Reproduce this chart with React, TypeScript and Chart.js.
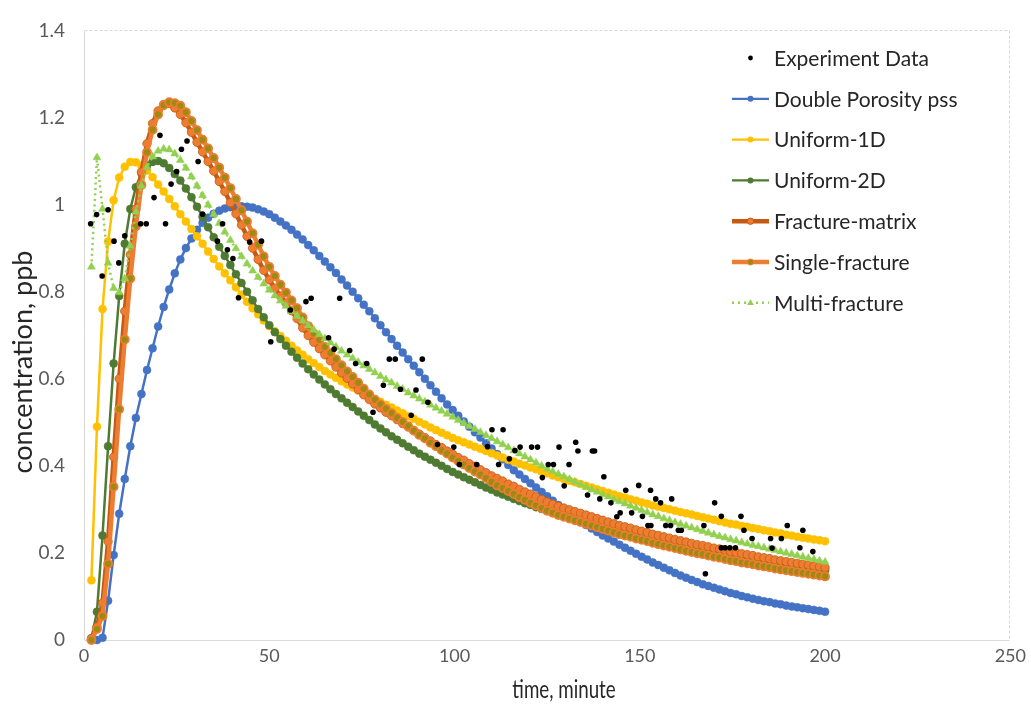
import { useEffect, useRef } from 'react';
import { Chart, registerables } from 'chart.js';

Chart.register(...registerables);

// ---------- data ----------
const TIMES = [
  2, 3.5, 5, 6.5, 8, 9.5, 11, 12.5, 14, 15.5,
  17, 18.5, 20, 21.5, 23, 24.5, 26, 27.5, 29, 30.5,
  32, 33.5, 35, 36.5, 38, 39.5, 41, 42.5, 44, 45.5,
  47, 48.5, 50, 51.5, 53, 54.5, 56, 57.5, 59, 60.5,
  62, 63.5, 65, 66.5, 68, 69.5, 71, 72.5, 74, 75.5,
  77, 78.5, 80, 81.5, 83, 84.5, 86, 87.5, 89, 90.5,
  92, 93.5, 95, 96.5, 98, 99.5, 101, 102.5, 104, 105.5,
  107, 108.5, 110, 111.5, 113, 114.5, 116, 117.5, 119, 120.5,
  122, 123.5, 125, 126.5, 128, 129.5, 131, 132.5, 134, 135.5,
  137, 138.5, 140, 141.5, 143, 144.5, 146, 147.5, 149, 150.5,
  152, 153.5, 155, 156.5, 158, 159.5, 161, 162.5, 164, 165.5,
  167, 168.5, 170, 171.5, 173, 174.5, 176, 177.5, 179, 180.5,
  182, 183.5, 185, 186.5, 188, 189.5, 191, 192.5, 194, 195.5,
  197, 198.5, 200,
];

const DOUBLE_POROSITY = [
  0, 0, 0.005, 0.09, 0.195, 0.29, 0.37, 0.445, 0.51, 0.565,
  0.62, 0.67, 0.72, 0.765, 0.805, 0.842, 0.874, 0.9, 0.922, 0.942,
  0.958, 0.97, 0.979, 0.986, 0.991, 0.994, 0.996, 0.996, 0.995, 0.993,
  0.989, 0.984, 0.978, 0.97, 0.961, 0.952, 0.942, 0.931, 0.92, 0.907,
  0.895, 0.882, 0.869, 0.856, 0.843, 0.828, 0.814, 0.8, 0.785, 0.77,
  0.755, 0.739, 0.723, 0.707, 0.691, 0.676, 0.66, 0.645, 0.63, 0.615,
  0.6, 0.585, 0.57, 0.555, 0.541, 0.528, 0.515, 0.502, 0.49, 0.477,
  0.465, 0.452, 0.44, 0.427, 0.415, 0.402, 0.39, 0.38, 0.37, 0.36,
  0.35, 0.34, 0.33, 0.32, 0.31, 0.3, 0.29, 0.281, 0.272, 0.264,
  0.256, 0.248, 0.24, 0.233, 0.226, 0.219, 0.212, 0.205, 0.198, 0.191,
  0.185, 0.178, 0.172, 0.166, 0.16, 0.154, 0.148, 0.143, 0.138, 0.133,
  0.128, 0.124, 0.12, 0.116, 0.112, 0.108, 0.105, 0.101, 0.098, 0.095,
  0.092, 0.089, 0.087, 0.084, 0.082, 0.079, 0.077, 0.075, 0.073, 0.071,
  0.069, 0.067, 0.065,
];

const UNIFORM_1D = [
  0.137, 0.49, 0.76, 0.915, 1.01, 1.062, 1.087, 1.098, 1.097, 1.09,
  1.078, 1.063, 1.046, 1.03, 1.013, 0.996, 0.978, 0.961, 0.944, 0.927,
  0.91, 0.892, 0.875, 0.858, 0.842, 0.826, 0.81, 0.793, 0.777, 0.762,
  0.748, 0.734, 0.721, 0.709, 0.698, 0.687, 0.676, 0.665, 0.655, 0.645,
  0.636, 0.627, 0.618, 0.61, 0.602, 0.594, 0.587, 0.58, 0.573, 0.566,
  0.56, 0.553, 0.547, 0.54, 0.534, 0.527, 0.521, 0.514, 0.508, 0.501,
  0.495, 0.488, 0.482, 0.476, 0.47, 0.464, 0.459, 0.454, 0.449, 0.444,
  0.439, 0.434, 0.429, 0.424, 0.419, 0.414, 0.41, 0.405, 0.401, 0.396,
  0.392, 0.387, 0.383, 0.378, 0.374, 0.37, 0.366, 0.362, 0.358, 0.354,
  0.35, 0.346, 0.342, 0.338, 0.334, 0.33, 0.327, 0.323, 0.32, 0.316,
  0.313, 0.309, 0.306, 0.303, 0.3, 0.297, 0.294, 0.291, 0.288, 0.285,
  0.282, 0.279, 0.276, 0.273, 0.27, 0.267, 0.265, 0.262, 0.26, 0.257,
  0.255, 0.252, 0.25, 0.247, 0.245, 0.242, 0.24, 0.237, 0.235, 0.233,
  0.231, 0.229, 0.227,
];

const UNIFORM_2D = [
  0.004, 0.065, 0.24, 0.445, 0.635, 0.79, 0.91, 0.99, 1.04, 1.072,
  1.09, 1.098, 1.1, 1.095, 1.084, 1.07, 1.055, 1.037, 1.017, 0.995,
  0.972, 0.948, 0.925, 0.903, 0.882, 0.861, 0.84, 0.82, 0.8, 0.78,
  0.76, 0.741, 0.723, 0.707, 0.691, 0.676, 0.662, 0.648, 0.635, 0.622,
  0.61, 0.598, 0.587, 0.576, 0.565, 0.555, 0.545, 0.535, 0.525, 0.515,
  0.505, 0.495, 0.486, 0.477, 0.468, 0.46, 0.452, 0.444, 0.436, 0.428,
  0.421, 0.414, 0.407, 0.4, 0.393, 0.386, 0.38, 0.374, 0.368, 0.362,
  0.356, 0.35, 0.345, 0.339, 0.334, 0.329, 0.324, 0.319, 0.314, 0.31,
  0.305, 0.301, 0.296, 0.292, 0.288, 0.284, 0.28, 0.276, 0.272, 0.268,
  0.265, 0.261, 0.258, 0.254, 0.251, 0.248, 0.245, 0.242, 0.239, 0.236,
  0.233, 0.23, 0.227, 0.224, 0.222, 0.219, 0.216, 0.214, 0.211, 0.209,
  0.206, 0.204, 0.202, 0.199, 0.197, 0.195, 0.193, 0.19, 0.188, 0.186,
  0.184, 0.182, 0.18, 0.178, 0.176, 0.174, 0.172, 0.17, 0.168, 0.166,
  0.164, 0.162, 0.16,
];

const FRACTURE_MATRIX = [
  0.003, 0.03, 0.085, 0.226, 0.42, 0.6, 0.755, 0.885, 0.99, 1.075,
  1.14, 1.186, 1.215, 1.23, 1.232, 1.222, 1.207, 1.188, 1.166, 1.143,
  1.121, 1.099, 1.077, 1.053, 1.03, 1.004, 0.979, 0.953, 0.927, 0.9,
  0.874, 0.849, 0.827, 0.808, 0.79, 0.774, 0.756, 0.738, 0.717, 0.699,
  0.684, 0.669, 0.655, 0.641, 0.627, 0.613, 0.601, 0.588, 0.575, 0.563,
  0.552, 0.542, 0.533, 0.523, 0.515, 0.506, 0.497, 0.489, 0.481, 0.473,
  0.465, 0.457, 0.449, 0.442, 0.434, 0.427, 0.419, 0.413, 0.405, 0.399,
  0.391, 0.384, 0.377, 0.371, 0.365, 0.358, 0.353, 0.346, 0.34, 0.335,
  0.329, 0.323, 0.317, 0.312, 0.307, 0.303, 0.299, 0.295, 0.291, 0.287,
  0.283, 0.279, 0.275, 0.271, 0.267, 0.263, 0.26, 0.257, 0.253, 0.25,
  0.247, 0.243, 0.24, 0.237, 0.234, 0.231, 0.228, 0.225, 0.222, 0.219,
  0.217, 0.214, 0.211, 0.209, 0.206, 0.203, 0.201, 0.198, 0.196, 0.194,
  0.191, 0.189, 0.187, 0.184, 0.182, 0.18, 0.178, 0.176, 0.174, 0.172,
  0.17, 0.168, 0.166,
];

const SINGLE_FRACTURE = [
  0, 0.025, 0.055, 0.175, 0.352, 0.53, 0.69, 0.83, 0.95, 1.045,
  1.12, 1.172, 1.207, 1.228, 1.235, 1.233, 1.227, 1.212, 1.192, 1.171,
  1.149, 1.129, 1.107, 1.085, 1.062, 1.038, 1.013, 0.987, 0.961, 0.934,
  0.908, 0.881, 0.857, 0.836, 0.816, 0.798, 0.78, 0.762, 0.741, 0.721,
  0.704, 0.689, 0.673, 0.659, 0.645, 0.631, 0.617, 0.604, 0.591, 0.577,
  0.564, 0.552, 0.541, 0.531, 0.521, 0.51, 0.501, 0.491, 0.481, 0.471,
  0.463, 0.453, 0.445, 0.436, 0.428, 0.419, 0.411, 0.403, 0.395, 0.387,
  0.38, 0.372, 0.363, 0.355, 0.349, 0.342, 0.335, 0.328, 0.322, 0.315,
  0.309, 0.303, 0.297, 0.292, 0.287, 0.283, 0.279, 0.275, 0.271, 0.267,
  0.263, 0.259, 0.255, 0.251, 0.247, 0.243, 0.24, 0.237, 0.233, 0.23,
  0.227, 0.223, 0.22, 0.217, 0.214, 0.211, 0.208, 0.205, 0.202, 0.199,
  0.197, 0.194, 0.191, 0.189, 0.186, 0.183, 0.181, 0.178, 0.176, 0.174,
  0.171, 0.169, 0.167, 0.164, 0.162, 0.16, 0.158, 0.156, 0.154, 0.152,
  0.15, 0.148, 0.146,
];

const MULTI_FRACTURE = [
  0.857, 1.108, 0.99, 0.866, 0.808, 0.798, 0.83, 0.905, 0.983, 1.043,
  1.085, 1.11, 1.123, 1.128, 1.126, 1.117, 1.102, 1.084, 1.064, 1.043,
  1.021, 0.999, 0.978, 0.957, 0.937, 0.918, 0.899, 0.881, 0.864, 0.848,
  0.833, 0.818, 0.804, 0.791, 0.779, 0.767, 0.755, 0.744, 0.733, 0.722,
  0.712, 0.702, 0.692, 0.683, 0.673, 0.664, 0.655, 0.647, 0.638, 0.63,
  0.622, 0.614, 0.606, 0.598, 0.591, 0.583, 0.576, 0.568, 0.561, 0.554,
  0.547, 0.54, 0.533, 0.526, 0.519, 0.512, 0.505, 0.498, 0.491, 0.484,
  0.477, 0.47, 0.463, 0.456, 0.449, 0.442, 0.435, 0.428, 0.421, 0.414,
  0.407, 0.4, 0.393, 0.387, 0.381, 0.375, 0.369, 0.363, 0.357, 0.351,
  0.345, 0.34, 0.334, 0.329, 0.323, 0.318, 0.313, 0.308, 0.303, 0.298,
  0.293, 0.288, 0.284, 0.279, 0.275, 0.27, 0.266, 0.262, 0.258, 0.254,
  0.25, 0.246, 0.242, 0.238, 0.235, 0.231, 0.228, 0.224, 0.221, 0.218,
  0.215, 0.212, 0.209, 0.206, 0.203, 0.2, 0.197, 0.194, 0.191, 0.188,
  0.185, 0.182, 0.179,
];

const EXP_T = [
  1.8, 3.4, 4.9, 6.5, 8.1, 9.4, 11.0, 15.3, 16.8, 18.9,
  20.5, 22.0, 23.5, 25.0, 26.3, 27.8, 30.8, 32.0, 36.0, 37.4,
  38.7, 40.2, 41.7, 44.7, 47.9, 50.4, 55.7, 59.9, 61.3, 66.0,
  67.5, 69.0, 71.7, 73.3, 76.3, 78.0, 80.8, 82.4, 84.0, 85.4,
  88.3, 89.6, 91.3, 92.8, 95.4, 99.8, 101.3, 106.0, 108.9, 110.1,
  111.9, 113.1, 114.8, 116.3, 117.7, 120.8, 122.4, 123.7, 125.3, 126.7,
  128.2, 129.6, 130.9, 132.7, 133.3, 135.9, 137.2, 137.8, 139.2, 140.3,
  142.2, 143.8, 144.7, 146.2, 147.8, 149.7, 150.7, 152.2, 152.9, 153.0,
  154.3, 155.6, 157.0, 158.3, 158.6, 160.4, 161.2, 167.3, 167.7, 170.2,
  172.0, 172.0, 173.0, 174.3, 175.8, 177.3, 178.1, 180.3, 185.3, 185.7,
  188.2, 189.8, 193.2, 194.0, 196.7,
];

const EXP_V = [
  0.956, 0.977, 0.836, 0.988, 0.916, 0.866, 0.928, 0.956, 0.956, 1.016,
  1.159, 0.956, 1.047, 1.076, 1.127, 1.146, 1.099, 0.978, 0.916, 0.956,
  0.896, 0.876, 0.786, 0.914, 0.916, 0.685, 0.758, 0.777, 0.785, 0.694,
  0.668, 0.785, 0.665, 0.635, 0.635, 0.523, 0.585, 0.645, 0.645, 0.576,
  0.516, 0.574, 0.645, 0.546, 0.449, 0.443, 0.403, 0.403, 0.444, 0.483,
  0.403, 0.483, 0.416, 0.435, 0.443, 0.443, 0.443, 0.373, 0.403, 0.403,
  0.443, 0.354, 0.403, 0.454, 0.434, 0.333, 0.434, 0.434, 0.324, 0.375,
  0.315, 0.283, 0.292, 0.344, 0.292, 0.355, 0.284, 0.263, 0.344, 0.263,
  0.324, 0.315, 0.263, 0.263, 0.324, 0.252, 0.252, 0.263, 0.152, 0.315,
  0.284, 0.212, 0.212, 0.212, 0.212, 0.284, 0.252, 0.233, 0.233, 0.211,
  0.233, 0.263, 0.212, 0.252, 0.203,
];

const X_TICKS = [0, 50, 100, 150, 200, 250];
const Y_TICKS = [0, 0.2, 0.4, 0.6, 0.8, 1, 1.2, 1.4];

const X_TITLE = 'time, minute';
const Y_TITLE = 'concentration, ppb';

// ---------- styles ----------
const FONT = 'Lato, "Noto Sans", sans-serif';
const C_BLUE = '#4472C4';
const C_GOLD = '#FFC000';
const C_DKGREEN = '#4E7A31';
const C_DKORANGE = '#C55A11';
const C_ORANGE = '#ED7D31';
const C_OLIVE = '#9C8A12';
const C_LTGREEN = '#92D050';

type LegendItem = {
  label: string;
  line?: string;
  lw?: number;
  dash?: number[];
  marker: 'dot' | 'circle' | 'triangle';
  fill: string;
  stroke?: string;
  msw?: number;
  r: number;
};

const LEGEND: LegendItem[] = [
  { label: 'Experiment Data', marker: 'dot', fill: '#000', r: 2.4 },
  { label: 'Double Porosity pss', line: C_BLUE, lw: 2.25, marker: 'circle', fill: C_BLUE, r: 3 },
  { label: 'Uniform-1D', line: C_GOLD, lw: 2.25, marker: 'circle', fill: C_GOLD, r: 3 },
  { label: 'Uniform-2D', line: C_DKGREEN, lw: 2.25, marker: 'circle', fill: C_DKGREEN, r: 3 },
  { label: 'Fracture-matrix', line: C_DKORANGE, lw: 4.5, marker: 'circle', fill: C_ORANGE, stroke: C_DKORANGE, msw: 1, r: 3.2 },
  { label: 'Single-fracture', line: C_ORANGE, lw: 4.5, marker: 'circle', fill: C_OLIVE, stroke: C_ORANGE, msw: 1, r: 3 },
  { label: 'Multi-fracture', line: C_LTGREEN, lw: 2.5, dash: [2, 4], marker: 'triangle', fill: C_LTGREEN, r: 3.6 },
];

const series = (vals: number[]) => TIMES.map((t, i) => ({ x: t, y: vals[i] }));

const framePlugin = {
  id: 'frame',
  beforeDatasetsDraw(chart: any) {
    const { ctx, chartArea: a } = chart;
    ctx.save();
    ctx.strokeStyle = '#D9D9D9';
    ctx.lineWidth = 1;
    const l = Math.round(a.left) + 0.5;
    const r = Math.round(a.right) - 0.5;
    const t = Math.round(a.top) + 0.5;
    const b = Math.round(a.bottom) + 0.5;
    ctx.beginPath();
    ctx.moveTo(l, t);
    ctx.lineTo(l, b);
    ctx.lineTo(r, b);
    ctx.stroke();
    ctx.setLineDash([3, 2]);
    ctx.beginPath();
    ctx.moveTo(l, t);
    ctx.lineTo(r, t);
    ctx.lineTo(r, b);
    ctx.stroke();
    ctx.restore();
  },
};

const drawMarker = (ctx: CanvasRenderingContext2D, it: LegendItem, x: number, y: number) => {
  ctx.beginPath();
  if (it.marker === 'triangle') {
    const r = it.r;
    ctx.moveTo(x, y - r);
    ctx.lineTo(x + r * 0.95, y + r * 0.6);
    ctx.lineTo(x - r * 0.95, y + r * 0.6);
    ctx.closePath();
  } else {
    ctx.arc(x, y, it.r, 0, Math.PI * 2);
  }
  ctx.fillStyle = it.fill;
  ctx.fill();
  if (it.stroke) {
    ctx.lineWidth = it.msw || 1;
    ctx.strokeStyle = it.stroke;
    ctx.stroke();
  }
};

const overlayPlugin = {
  id: 'overlay',
  afterDraw(chart: any) {
    const { ctx } = chart;
    ctx.save();
    // axis titles
    ctx.fillStyle = '#262626';
    ctx.textAlign = 'center';
    ctx.textBaseline = 'middle';
    ctx.save();
    ctx.translate(564, 690);
    ctx.scale(0.75, 1);
    ctx.font = `25px ${FONT}`;
    ctx.fillText(X_TITLE, 0, 0);
    ctx.restore();
    ctx.save();
    ctx.translate(23, 362);
    ctx.rotate(-Math.PI / 2);
    ctx.font = `27px ${FONT}`;
    ctx.fillText(Y_TITLE, 0, 0);
    ctx.restore();

    // legend
    const x0 = 732;
    const x1 = 769;
    const xm = 750.5;
    const tx = 774;
    ctx.font = `21px ${FONT}`;
    ctx.textAlign = 'left';
    LEGEND.forEach((it, i) => {
      const y = 58 + i * 40.8;
      if (it.line) {
        ctx.save();
        ctx.strokeStyle = it.line;
        ctx.lineWidth = it.lw || 2;
        if (it.dash) ctx.setLineDash(it.dash);
        ctx.beginPath();
        ctx.moveTo(x0, y);
        ctx.lineTo(x1, y);
        ctx.stroke();
        ctx.restore();
      }
      drawMarker(ctx, it, xm, y);
      ctx.fillStyle = '#262626';
      ctx.fillText(it.label, tx, y + 1);
    });
    ctx.restore();
  },
};

export default function App() {
  const ref = useRef<HTMLCanvasElement | null>(null);

  useEffect(() => {
    if (!ref.current) return;
    const lineSet = (label: string, vals: number[], color: string) => ({
      label,
      data: series(vals),
      borderColor: color,
      borderWidth: 2.5,
      pointRadius: 4,
      pointBackgroundColor: color,
      pointBorderColor: color,
      pointBorderWidth: 0.5,
      clip: false as const,
    });

    const chart = new Chart(ref.current, {
      type: 'line',
      data: {
        datasets: [
          {
            label: 'Experiment Data',
            data: EXP_T.map((t, i) => ({ x: t, y: EXP_V[i] })),
            showLine: false,
            pointRadius: 2.8,
            pointBackgroundColor: '#000',
            pointBorderColor: '#000',
            pointBorderWidth: 0,
            borderColor: '#000',
            clip: false as const,
          },
          {
            label: 'Multi-fracture',
            data: series(MULTI_FRACTURE),
            borderColor: C_LTGREEN,
            borderWidth: 2.5,
            borderDash: [2, 3.5],
            pointStyle: 'triangle',
            pointRadius: 4.6,
            pointBackgroundColor: C_LTGREEN,
            pointBorderColor: C_LTGREEN,
            pointBorderWidth: 0.5,
            clip: false as const,
          },
          {
            label: 'Single-fracture',
            data: series(SINGLE_FRACTURE),
            borderColor: C_ORANGE,
            borderWidth: 4.5,
            pointRadius: 4,
            pointBackgroundColor: C_OLIVE,
            pointBorderColor: C_ORANGE,
            pointBorderWidth: 1.8,
            clip: false as const,
          },
          {
            label: 'Fracture-matrix',
            data: series(FRACTURE_MATRIX),
            borderColor: C_DKORANGE,
            borderWidth: 4.5,
            pointRadius: 4.2,
            pointBackgroundColor: C_ORANGE,
            pointBorderColor: C_DKORANGE,
            pointBorderWidth: 0.8,
            clip: false as const,
          },
          lineSet('Uniform-2D', UNIFORM_2D, C_DKGREEN),
          lineSet('Uniform-1D', UNIFORM_1D, C_GOLD),
          lineSet('Double Porosity pss', DOUBLE_POROSITY, C_BLUE),
        ],
      },
      options: {
        animation: false,
        responsive: false,
        events: [],
        layout: { padding: { left: 0, top: 20, right: 19, bottom: 0 } },
        plugins: {
          legend: { display: false },
          tooltip: { enabled: false },
        },
        elements: { line: { tension: 0 } },
        scales: {
          x: {
            type: 'linear',
            min: 0,
            max: 250,
            afterBuildTicks: (s: any) => {
              s.ticks = X_TICKS.map((v) => ({ value: v }));
            },
            afterFit: (s: any) => {
              s.height = 82;
            },
            grid: { display: false, drawTicks: false },
            border: { display: false },
            ticks: {
              padding: 5,
              color: '#595959',
              font: { family: FONT, size: 18 },
              callback: (v: any) => String(v),
            },
          },
          y: {
            type: 'linear',
            min: 0,
            max: 1.4,
            afterBuildTicks: (s: any) => {
              s.ticks = Y_TICKS.map((v) => ({ value: v }));
            },
            afterFit: (s: any) => {
              s.width = 84;
            },
            grid: { display: false, drawTicks: false },
            border: { display: false },
            ticks: {
              padding: 19,
              color: '#595959',
              font: { family: FONT, size: 19 },
              callback: (v: any) => String(Math.round(Number(v) * 10) / 10),
            },
          },
        },
      },
      plugins: [framePlugin, overlayPlugin],
    });
    return () => chart.destroy();
  }, []);

  return (
    <div style={{ position: 'absolute', left: 0, top: 0, width: 1031, height: 722, background: '#fff' }}>
      <canvas ref={ref} width={1031} height={722} style={{ width: 1031, height: 722, display: 'block' }} />
    </div>
  );
}
